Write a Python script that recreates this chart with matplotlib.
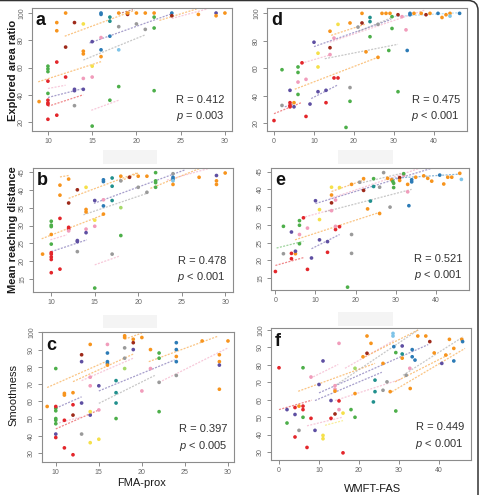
import matplotlib
matplotlib.use("Agg")
import matplotlib.pyplot as plt
from matplotlib.patches import Rectangle, FancyBboxPatch

plt.rcParams['font.family'] = ['Liberation Sans', 'DejaVu Sans']
plt.rcParams['mathtext.fontset'] = 'custom'
plt.rcParams['mathtext.it'] = 'Liberation Sans:italic'
plt.rcParams['mathtext.rm'] = 'Liberation Sans'

# subject colour codes
colors = {
    'r': '#e3262b', 'o': '#f7941d', 'y': '#f5e04a', 'g': '#4daf4a',
    't': '#21908d', 'b': '#2c7bb6', 'p': '#5e4fa2', 'd': '#9e2a1a',
    'k': '#9a9a9a', 'n': '#f19cbb', 'l': '#7fc4e8', 'e': '#a6d96a',
}

# ---- panel a : FMA-prox vs explored area ratio
a_x = [9, 12, 11, 11, 11, 10, 10, 10, 10, 10, 10, 10, 10, 10, 11, 12, 12, 13, 13, 13,
       13, 14, 14, 14, 14, 14, 15, 15, 15, 15, 16, 16, 16, 16, 16, 17, 17, 17, 17, 18,
       18, 18, 18, 19, 19, 20, 20, 21, 21, 22, 22, 22, 22, 24, 24, 27, 29, 29, 30]
a_y = [35, 100, 93, 87, 64, 50, 61, 59, 57, 41, 36, 34, 33, 22, 25, 75, 53, 93, 44, 43,
       32, 92, 72, 70, 52, 44, 61, 53, 79, 17, 100, 99, 82, 73, 68, 97, 94, 83, 36, 100,
       90, 73, 46, 99, 100, 100, 92, 100, 88, 100, 97, 89, 43, 100, 98, 99, 100, 98, 100]
a_s = list("oooorrggggrrrrrdrdppkyoonpynpgbbnbottbgo" + "klgdookokogggbdopoo")
a_lx0 = [8.9, 11.9, 18, 14.7, 14, 10, 10, 10, 14.9, 22.6, 24]
a_ly0 = [49.5, 83, 99.5, 78, 65.5, 44.6, 38, 31.5, 28.6, 94.6, 96]
a_lx1 = [16, 19.8, 19.6, 24, 21, 12, 14, 14, 18, 26.8, 28]
a_ly1 = [64.3, 102, 102.5, 99.5, 84, 47, 44.6, 40, 36, 103, 103]
a_ls = list("oodpknprnon")

# ---- panel b : FMA-prox vs mean reaching distance
b_x = [9, 10, 10, 10, 10, 10, 10, 10, 10, 10, 10, 11, 11, 11, 11, 12, 12, 12, 12, 12,
       13, 13, 13, 13, 14, 14, 14, 14, 14, 15, 15, 15, 15, 16, 16, 16, 16, 16, 17, 17,
       17, 17, 18, 18, 18, 18, 19, 20, 20, 21, 21, 22, 22, 22, 22, 24, 24, 24, 24, 24,
       27, 29, 29, 29, 30]
b_y = [22, 16.8, 20.5, 21.2, 22.0, 22.4, 24.8, 29.7, 30.1, 31.2, 27.5, 17.8, 32, 38.5, 41.3,
       43, 36.3, 29.5, 29, 28.5, 40, 25.8, 25.5, 22.7, 40.7, 34.5, 33.8, 29, 28, 37,
       31.5, 29.8, 12.5, 42.8, 42.3, 37.2, 35.5, 33.2, 43.3, 41, 37, 22, 43.8, 42.5, 35,
       27.2, 43.5, 43.8, 40.7, 43.8, 39.3, 44.8, 42.5, 42, 40.7, 44.5, 43.5, 43, 42.5, 41.5,
       43.5, 44, 42.5, 41.5, 44.7]
b_s = list("orrrrrgggg" "orrooodrrn" "dppkyoonpp" "yngbbnbott" "tkokegdoko"
           "kggggkbblo" "opooo")
b_lx0 = [8.9, 12, 14.9, 13.7, 9.9, 10, 15, 21.4, 23.3, 11, 18]
b_ly0 = [26.3, 37.6, 36.2, 33, 26, 22.7, 19, 40.4, 42.7, 43.6, 42.5]
b_lx1 = [16, 19.8, 25.4, 21, 11.8, 14.1, 17.9, 27, 28, 12, 20]
b_ly1 = [33, 44.7, 45.6, 39, 27.4, 26, 21.5, 45.9, 45.9, 44, 44.7]
b_ls = list("oopknpnonoo")

# ---- panel c : FMA-prox vs smoothness
c_x = [9, 10, 10, 10, 10, 10, 10, 10, 10, 10, 11, 11, 11, 11, 12, 12, 12, 12, 13, 13,
       13, 13, 14, 14, 14, 14, 14, 14, 15, 15, 15, 16, 16, 16, 16, 16, 17, 17, 17, 17,
       18, 18, 18, 18, 18, 19, 19, 19, 20, 20, 21, 21, 22, 22, 22, 22, 24, 24, 24, 24,
       24, 27, 29, 29, 29, 29, 30]
c_y = [57, 79, 56, 54.5, 57, 50, 49, 47, 41, 39, 64.6, 63.6, 49, 33, 65, 58, 52, 29, 87, 83,
       59, 41, 93, 74, 69, 52, 54, 36, 69, 55, 38, 93, 88, 83, 82, 81, 72, 65, 59, 50,
       98, 97, 91, 85, 79, 94, 96, 90, 97, 66, 90, 79, 88, 85, 71, 54, 94, 90, 86, 83,
       75, 95, 87, 83, 81, 67, 95]
c_s = list("ogggrgggpr" "oorrordrdp" "pkonnpyypn" "ynbbbotttg" "ookkedopon"
           "onggkgbbob" "kooopoo")
c_lx0 = [9, 12, 13, 18, 10, 15, 20.8, 15, 22, 10, 10]
c_ly0 = [68, 71.4, 72, 96, 56, 66, 83, 58.8, 71, 44, 47]
c_lx1 = [15.8, 19, 19, 20, 13, 23.8, 28.8, 21.5, 30, 15, 13]
c_ly1 = [83, 87.4, 85, 99.6, 62.6, 84, 97.7, 75, 91, 55, 51]
c_ls = list("oonoppoknrn")

# ---- panel d : WMFT-FAS vs explored area ratio
d_x = [0, 2, 2, 4, 4, 4, 4, 5, 5, 6, 6, 6, 6, 7, 8, 8, 9, 10, 11, 11,
       11, 13, 13, 14, 14, 14, 15, 15, 16, 16, 19, 19, 19, 18, 21, 22, 22, 23, 24, 24,
       24, 26, 26, 27, 28, 29, 28.7, 29.5, 29.5, 31, 32, 31, 33, 33.3, 34, 34, 35, 36.8, 38, 39,
       41, 42, 43, 44, 44, 46.4]
d_y = [22, 33, 59, 35, 33, 32, 44, 35, 32, 61, 57, 41, 50, 64, 52, 25, 34, 79, 71, 61,
       43, 44, 35, 87, 75, 70, 82, 53, 53, 92, 93, 46, 36, 17, 90, 100, 93, 72, 83, 97,
       94, 92, 68, 100, 100, 100, 73, 89, 97.6, 99, 97.6, 43, 88, 73, 100, 99, 100, 100, 99, 100,
       100, 97, 99, 100, 98, 100]
d_s = list("rkgrrrpopg" "ggnrnrppyy" "pprodnnrry" "okggkodogt" "tkoooogggd"
           "ngnbbboodo" "booolb")
d_lx0 = [0, 5.2, 9.3, 6.8, 12.7, 10, 13.9, 14.3, 21, 29.3, 2.7]
d_ly0 = [27, 44.8, 38, 63.6, 67, 75.8, 79, 84, 86.7, 97.6, 32]
d_lx1 = [6.8, 26.4, 16, 14.3, 31, 29.3, 37.7, 22.7, 30, 46.5, 4.7]
d_ly1 = [35, 68.5, 48, 70, 77.5, 95.6, 102.4, 92, 97.6, 100.5, 34]
d_ls = list("ropnkpnoklp")

# ---- panel e : WMFT-FAS vs mean reaching distance
e_x = [0, 2, 2, 4, 4, 4, 5, 5, 6, 6, 6, 6, 7, 8, 8, 9, 10, 11, 11, 11,
       13, 13, 14, 14, 14, 14, 15, 15, 16, 15, 16, 19, 19, 19, 18, 21, 22, 22, 23, 23.7,
       24.5, 24.5, 26, 26, 27, 28, 29, 29.3, 29.5, 29.5, 28.6, 31, 31, 32, 32, 33, 33.3, 33, 34, 34,
       35, 37, 38, 39, 41, 42, 43, 44, 46, 46.4]
e_y = [16.9, 21.9, 29.6, 22, 20.5, 28, 21.9, 22.6, 31.2, 29.9, 24.7, 27.3, 32, 29.1, 17.5, 20.7, 36.8, 34.3, 31.5, 25.8,
       25.3, 22.3, 40.6, 38.4, 36.2, 34, 37, 28.7, 29.5, 29.6, 40.5, 41.4, 27.3, 22, 12.5, 42, 43, 39.7, 34.5, 36.7,
       43, 40.8, 40.6, 33.2, 44.7, 43.1, 42.7, 42.2, 41.7, 40.5, 35, 43.3, 42.5, 44, 44.4, 39.3, 35.4, 41.4, 42.7, 42.1,
       43.4, 43.8, 43.1, 42.3, 44, 41.5, 43.4, 43.4, 44.5, 42.8]
e_s = list("rkgrrpopgg" "gnrnrppyyp" "pryodnnrrn" "yokkgkodot" "gtkokooggg"
           "kdongnbobb" "oooobooool")
e_lx0 = [0, 0.3, 4.9, 9, 6.6, 12.4, 10, 13.6, 14, 21, 29]
e_ly0 = [18.6, 23.5, 25.8, 23.3, 32, 33.7, 36, 37.4, 39.4, 41.7, 43.1]
e_lx1 = [7, 7, 26.2, 16, 14, 34, 39.8, 37.2, 22.3, 31.5, 46.4]
e_ly1 = [20.8, 25.4, 33.6, 27.3, 34.3, 40, 46.2, 46.4, 42.7, 44.5, 44.3]
e_ls = list("rgopnkpnokb")

# ---- panel f : WMFT-FAS vs smoothness
f_x = [0, 2, 2, 4, 4, 4, 5, 5, 6, 6, 6, 6, 7, 8, 8, 9, 10, 11, 11, 11,
       13, 13, 14, 14, 14, 14, 15, 15, 15, 16, 16, 18, 19, 19, 19, 21, 22, 22, 23, 23.6,
       24, 24, 26, 26, 27, 27.8, 28.5, 28.5, 28.7, 29.2, 29.2, 30.8, 30.8, 30.8, 31.8, 32.8, 32.7, 33.3, 33.3, 34,
       34.7, 36.7, 37.7, 38.8, 40.7, 41.7, 42.6, 43.7, 43.7, 45.7, 45.9]
f_y = [78.3, 46.6, 54.3, 55.5, 51.5, 38.6, 56.3, 42.4, 56.3, 54.3, 78.3, 49.9, 32.6, 73, 49.3, 42.4, 68.7, 82.2, 39.5, 37.6,
       59.5, 49.3, 68, 66, 51.8, 64.9, 92.3, 59.3, 54.3, 52.3, 29.5, 54.3, 78, 49.9, 63.5, 84.6, 96.5, 86.6, 92.3, 58.7,
       71.2, 64.6, 80.8, 65.4, 70.2, 64.6, 98, 96.5, 90.4, 87, 53.5, 90.8, 83.8, 86.2, 74, 66.4, 78, 88.7, 84.6, 82.7,
       96.5, 96.5, 93.3, 86.8, 80.8, 85.6, 94.6, 89.4, 82.2, 94.6, 93.3]
f_s = list("rgprprokrr" "ggrnrpppyy" "prnndonrny" "rgegooodot" "ttokkollbg"
           "gpotkonbbb" "oodopooobob")
f_lx0 = [0, 4.8, 7.8, 9, 10, 13.6, 16.5, 21.5, 14, 11.5, 7, 28.2, 29, 31]
f_ly0 = [54.3, 64.8, 72.2, 59.5, 63.9, 67.4, 78, 84.6, 59.5, 45.3, 45, 64.5, 70.2, 74]
f_lx1 = [8.2, 24, 14.8, 25.7, 37.3, 34.8, 29, 34.8, 30.7, 16, 16, 46.5, 43, 46]
f_ly1 = [59.7, 80.8, 80.2, 75.7, 91.6, 100, 94.3, 100, 71.9, 48, 50, 89.4, 86.5, 96]
f_ls = list("ronppknonynook")

x_ticks_fma = [10, 15, 20, 25, 30]
x_ticks_wmft = [0, 10, 20, 30, 40]

fig = plt.figure(figsize=(4.82, 4.95), dpi=100)
W, H = 482.0, 495.0


def add_ax(l, t, r, b):
    return fig.add_axes([l / W, 1 - b / H, (r - l) / W, (b - t) / H])


def panel(ax, xs, ys, subj, lx0, ly0, lx1, ly1, lsubj, xlim, ylim, xticks, yticks,
          letter, rtxt, ptxt):
    for x0, y0, x1, y1, s in zip(lx0, ly0, lx1, ly1, lsubj):
        ax.plot([x0, x1], [y0, y1], color=colors[s], lw=0.9, ls=(0, (1.6, 1.1)),
                alpha=0.55, zorder=2)
    ax.scatter(xs, ys, c=[colors[s] for s in subj], s=7, lw=0, zorder=3)
    ax.set_xlim(*xlim)
    ax.set_ylim(*ylim)
    ax.set_xticks(xticks)
    ax.set_yticks(yticks)
    for sp in ax.spines.values():
        sp.set_color('#8c8c8c')
        sp.set_linewidth(0.8)
    ax.tick_params(length=3, width=0.7, color='#8c8c8c', labelsize=5,
                   labelcolor='#666666', pad=2)
    for lab in ax.get_yticklabels():
        lab.set_rotation(90)
        lab.set_va('center')
    ax.text(0.02, 0.965, letter, transform=ax.transAxes, fontsize=13,
            weight='bold', va='top', ha='left', color='#111111')
    ax.text(0.965, 0.25, rtxt, transform=ax.transAxes, fontsize=8, ha='right',
            va='center', color='#333333')
    ax.text(0.965, 0.12, ptxt, transform=ax.transAxes, fontsize=8, ha='right',
            va='center', color='#333333')


ax_a = add_ax(32, 8, 232, 131)
panel(ax_a, a_x, a_y, a_s, a_lx0, a_ly0, a_lx1, a_ly1, a_ls, (8.2, 30.8), (13.4, 103.7),
      x_ticks_fma, [20, 40, 60, 80, 100], 'a', 'R = 0.412', '$p$ = 0.003')
ax_d = add_ax(267, 8, 467, 131)
panel(ax_d, d_x, d_y, d_s, d_lx0, d_ly0, d_lx1, d_ly1, d_ls, (-1.75, 48.25), (14.4, 103.9),
      x_ticks_wmft, [20, 40, 60, 80, 100], 'd', 'R = 0.475', '$p$ < 0.001')
ax_b = add_ax(33, 168, 233, 292)
panel(ax_b, b_x, b_y, b_s, b_lx0, b_ly0, b_lx1, b_ly1, b_ls, (7.9, 30.9), (11.4, 46.1),
      x_ticks_fma, [15, 20, 25, 30, 35, 40, 45], 'b', 'R = 0.478', '$p$ < 0.001')
ax_e = add_ax(271, 168, 469, 290)
panel(ax_e, e_x, e_y, e_s, e_lx0, e_ly0, e_lx1, e_ly1, e_ls, (-1.1, 48.3), (11.7, 46.0),
      x_ticks_wmft, [15, 20, 25, 30, 35, 40, 45], 'e', 'R = 0.521', '$p$ < 0.001')
ax_c = add_ax(42, 332, 234, 462)
panel(ax_c, c_x, c_y, c_s, c_lx0, c_ly0, c_lx1, c_ly1, c_ls, (8.4, 30.7), (24.8, 100.2),
      x_ticks_fma, [30, 40, 50, 60, 70, 80, 90, 100], 'c', 'R = 0.397', '$p$ < 0.005')
ax_f = add_ax(271, 328, 471, 460)
panel(ax_f, f_x, f_y, f_s, f_lx0, f_ly0, f_lx1, f_ly1, f_ls, (-2, 48), (25.4, 101.1),
      x_ticks_wmft, [30, 40, 50, 60, 70, 80, 90, 100], 'f', 'R = 0.449', '$p$ < 0.001')

# y labels
fig.text(13 / W, 1 - 70 / H, 'Explored area ratio', rotation=90, ha='center', va='center',
         fontsize=8, weight='bold', color='#1a1a1a')
fig.text(13 / W, 1 - 230 / H, 'Mean reaching distance', rotation=90, ha='center',
         va='center', fontsize=8, weight='bold', color='#1a1a1a')
fig.text(13 / W, 1 - 395 / H, 'Smoothness', rotation=90, ha='center', va='center',
         fontsize=8, color='#1a1a1a')
# x labels
fig.text(142 / W, 1 - 483 / H, 'FMA-prox', ha='center', va='center', fontsize=8,
         color='#1a1a1a')
fig.text(373 / W, 1 - 489 / H, 'WMFT-FAS', ha='center', va='center', fontsize=8,
         color='#1a1a1a')

# faint boxes where hidden labels were
for (l, t, r, b) in [(103, 150, 157, 164), (338, 150, 393, 164), (103, 315, 157, 328),
                     (338, 312, 393, 326)]:
    fig.patches.append(Rectangle((l / W, 1 - b / H), (r - l) / W, (b - t) / H,
                                 transform=fig.transFigure, facecolor='#f4f4f4',
                                 edgecolor='none', zorder=0))

# rounded outer frame (only top and right edges fall inside the image)
frame = FancyBboxPatch((-0.3, -0.3), 4.78 + 0.3, 4.945 + 0.3,
                       boxstyle='round,pad=0,rounding_size=0.1',
                       transform=fig.dpi_scale_trans, facecolor='none',
                       edgecolor='#333333', lw=1.1)
fig.add_artist(frame)

fig.savefig('out.png', dpi=100)
